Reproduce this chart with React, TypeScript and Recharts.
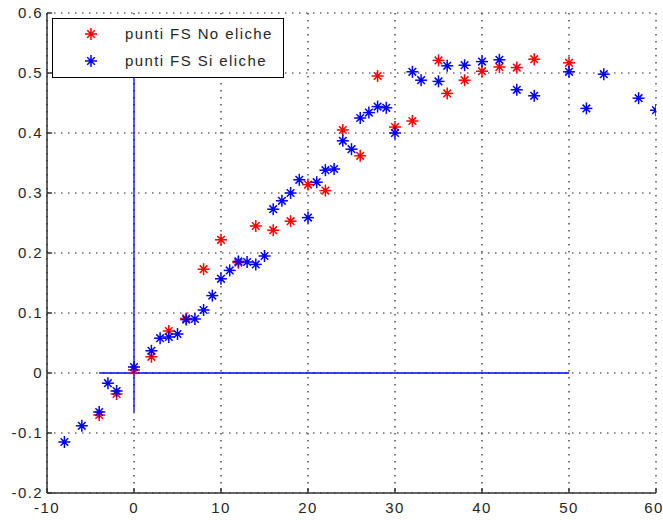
import React from 'react'
import {
  ScatterChart,
  Scatter,
  XAxis,
  YAxis,
  CartesianGrid,
  ReferenceLine,
} from 'recharts'

// punti FS senza eliche
const noElicheX = [-4, -2, 0, 2, 4, 6, 8, 10, 12, 14, 16, 18, 20, 22, 24, 26, 28, 30, 32, 35, 36, 38, 40, 42, 44, 46, 50]
const noElicheY = [
  -0.07, -0.035, 0.005, 0.027, 0.07, 0.091, 0.173, 0.222, 0.184, 0.245, 0.238, 0.253, 0.314, 0.304,
  0.405, 0.362, 0.495, 0.41, 0.42, 0.521, 0.466, 0.488, 0.503, 0.51, 0.509, 0.523, 0.517,
]

// punti FS con eliche
const siElicheX = [
  -8, -6, -4, -3, -2, 0, 2, 3, 4, 5, 6, 7, 8, 9, 10, 11, 12, 13, 14, 15, 16, 17, 18, 19, 20, 21, 22,
  23, 24, 25, 26, 27, 28, 29, 30, 32, 33, 35, 36, 38, 40, 42, 44, 46, 50, 52, 54, 58, 60,
]
const siElicheY = [
  -0.115, -0.088, -0.065, -0.017, -0.03, 0.01, 0.037, 0.058, 0.06, 0.065, 0.089, 0.09, 0.105, 0.129,
  0.157, 0.171, 0.186, 0.185, 0.181, 0.195, 0.273, 0.287, 0.3, 0.322, 0.259, 0.318, 0.338, 0.34,
  0.387, 0.373, 0.425, 0.434, 0.444, 0.442, 0.4, 0.502, 0.488, 0.486, 0.512, 0.513, 0.519, 0.522,
  0.472, 0.462, 0.502, 0.441, 0.498, 0.458, 0.438,
]

const xTicks = [-10, 0, 10, 20, 30, 40, 50, 60]
const yTicks = [-0.2, -0.1, 0, 0.1, 0.2, 0.3, 0.4, 0.5, 0.6]

// guide lines through the origin
const hLine = [{ x: -4, y: 0 }, { x: 50, y: 0 }]
const vLine = [{ x: 0, y: -0.065 }, { x: 0, y: 0.5 }]

const RED = '#ff0000'
const BLUE = '#0000ff'
const TEXT = '#262626'
const FONT = '"Liberation Sans", Arial, Helvetica, sans-serif'
const SPACING = '1.4px'

const noData = noElicheX.map((x, i) => ({ x, y: noElicheY[i] }))
const siData = siElicheX.map((x, i) => ({ x, y: siElicheY[i] }))

function Star({ cx, cy, color }: { cx: number; cy: number; color: string }) {
  const a = 6
  const d = 3.8
  return (
    <g stroke={color} strokeWidth={1.5} strokeLinecap="butt">
      <line x1={cx - a} y1={cy} x2={cx + a} y2={cy} />
      <line x1={cx} y1={cy - a} x2={cx} y2={cy + a} />
      <line x1={cx - d} y1={cy - d} x2={cx + d} y2={cy + d} />
      <line x1={cx - d} y1={cy + d} x2={cx + d} y2={cy - d} />
      <circle cx={cx} cy={cy} r={2} fill={color} stroke="none" />
    </g>
  )
}

const fmtY = (v: number) => (v === 0 ? '0' : String(v))

function LegendBox() {
  const rows = [
    { label: 'punti FS No eliche', color: RED },
    { label: 'punti FS Si eliche', color: BLUE },
  ]
  return (
    <div
      style={{
        position: 'absolute',
        left: 52,
        top: 18,
        width: 230,
        height: 58,
        border: '1px solid #000',
        background: '#fff',
        fontFamily: FONT,
        fontSize: 15,
        letterSpacing: SPACING,
        color: TEXT,
      }}
    >
      {rows.map((r, i) => (
        <div key={r.label} style={{ position: 'absolute', left: 0, top: 6 + i * 27, height: 18, width: '100%' }}>
          <svg width={16} height={16} style={{ position: 'absolute', left: 30, top: 1 }}>
            <Star cx={8} cy={8} color={r.color} />
          </svg>
          <span style={{ position: 'absolute', left: 72, top: 0, lineHeight: '18px', whiteSpace: 'nowrap' }}>
            {r.label}
          </span>
        </div>
      ))}
    </div>
  )
}

const tickStyle = { fill: TEXT, fontSize: 15, fontFamily: FONT, letterSpacing: SPACING }

export default function App() {
  return (
    <div style={{ position: 'absolute', left: 0, top: 0, width: 663, height: 520, overflow: 'hidden', background: '#fff' }}>
      <ScatterChart width={663} height={520} margin={{ top: 13, right: 7, bottom: 0, left: 0 }}>
        <CartesianGrid stroke="#222" strokeWidth={1.2} strokeDasharray="1.5 5.5" horizontal vertical />
        <XAxis
          type="number"
          dataKey="x"
          domain={[-10, 60]}
          ticks={xTicks}
          height={27}
          tickSize={-5}
          tickMargin={14}
          axisLine={{ stroke: '#333', strokeWidth: 1.5 }}
          tickLine={{ stroke: '#333', strokeWidth: 1.5 }}
          tick={tickStyle}
          allowDataOverflow
        />
        <YAxis
          type="number"
          dataKey="y"
          domain={[-0.2, 0.6]}
          ticks={yTicks}
          width={47}
          tickSize={-5}
          tickMargin={9}
          tickFormatter={fmtY}
          axisLine={{ stroke: '#333', strokeWidth: 1.5 }}
          tickLine={{ stroke: '#333', strokeWidth: 1.5 }}
          tick={tickStyle}
          allowDataOverflow
        />
        <ReferenceLine segment={hLine} stroke={BLUE} strokeWidth={1.3} />
        <ReferenceLine segment={vLine} stroke={BLUE} strokeWidth={1.3} />
        <Scatter
          data={noData}
          isAnimationActive={false}
          shape={(p: any) => <Star cx={p.cx} cy={p.cy} color={RED} />}
        />
        <Scatter
          data={siData}
          isAnimationActive={false}
          shape={(p: any) => <Star cx={p.cx} cy={p.cy} color={BLUE} />}
        />
      </ScatterChart>
      <LegendBox />
    </div>
  )
}
